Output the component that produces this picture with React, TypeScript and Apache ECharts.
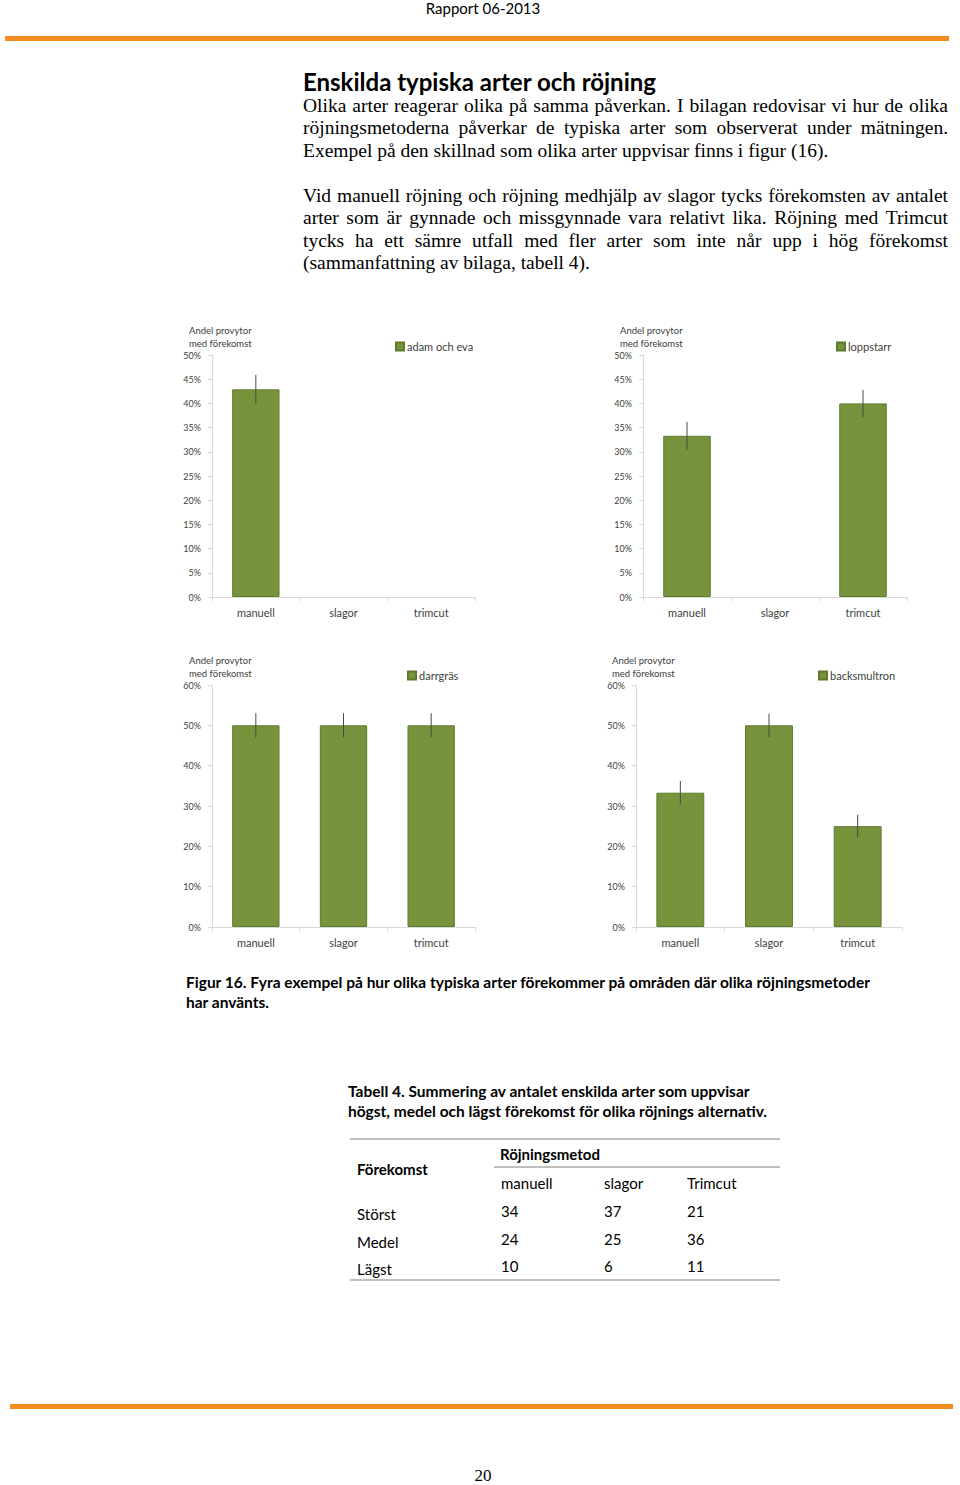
import React, { useEffect, useRef } from "react";
import * as echarts from "echarts";

// ---------- data ----------
const categories = ["manuell", "slagor", "trimcut"];
const speciesNames = ["adam och eva", "loppstarr", "darrgräs", "backsmultron"];
const adamValues = [42.9, 0, 0];
const adamErrors = [3.0, 0, 0];
const loppstarrValues = [33.3, 0, 40.0];
const loppstarrErrors = [2.9, 0, 2.8];
const darrgrasValues = [50.0, 50.0, 50.0];
const darrgrasErrors = [3.0, 3.0, 3.0];
const backsmultronValues = [33.3, 50.0, 25.0];
const backsmultronErrors = [2.9, 2.9, 2.8];
const yMaxes = [50, 50, 60, 60];
const yIntervals = [5, 5, 10, 10];

const tableColumns = ["manuell", "slagor", "Trimcut"];
const tableRows = ["Störst", "Medel", "Lägst"];
const tableManuell = [34, 24, 10];
const tableSlagor = [37, 25, 6];
const tableTrimcut = [21, 36, 11];

const paragraph1 = [
  "Olika arter reagerar olika på samma påverkan. I bilagan redovisar vi hur de olika",
  "röjningsmetoderna påverkar de typiska arter som observerat under mätningen.",
  "Exempel på den skillnad som olika arter uppvisar finns i figur (16).",
];
const paragraph2 = [
  "Vid manuell röjning och röjning medhjälp av slagor tycks förekomsten av antalet",
  "arter som är gynnade och missgynnade vara relativt lika. Röjning med Trimcut",
  "tycks ha ett sämre utfall med fler arter som inte når upp i hög förekomst",
  "(sammanfattning av bilaga, tabell 4).",
];

// ---------- layout ----------
const SANS = "Lato";
const SERIF = "Liberation Serif";
const BAR_COLOR = "#77933c";
const AXIS_COLOR = "#d9d9d9";
const LABEL_COLOR = "#404040";

const grids = [
  { left: 212, top: 355, width: 263, height: 242 },
  { left: 643, top: 355, width: 264, height: 242 },
  { left: 212, top: 685, width: 263, height: 242 },
  { left: 636, top: 685, width: 266, height: 242 },
];
const legendPos = [
  { left: 395, top: 341 },
  { left: 836, top: 341 },
  { left: 407, top: 670 },
  { left: 818, top: 670 },
];
const axisTitlePos = [
  { x: 189, y: 330 },
  { x: 620, y: 330 },
  { x: 189, y: 660 },
  { x: 612, y: 660 },
];

function measureCtx() {
  const c = document.createElement("canvas");
  return c.getContext("2d")!;
}

function justifiedLines(lines: string[], x: number, y0: number, lh: number, width: number, font: string, fill: string) {
  const ctx = measureCtx();
  ctx.font = font;
  const els: any[] = [];
  lines.forEach((line, li) => {
    const y = y0 + li * lh;
    const last = li === lines.length - 1;
    if (last) {
      els.push({ type: "text", x, y, style: { text: line, font, fill, textVerticalAlign: "middle" } });
      return;
    }
    const words = line.split(" ");
    const widths = words.map((w) => ctx.measureText(w).width);
    const total = widths.reduce((a, b) => a + b, 0);
    const gap = (width - total) / (words.length - 1);
    let cx = x;
    words.forEach((w, wi) => {
      els.push({ type: "text", x: cx, y, style: { text: w, font, fill, textVerticalAlign: "middle" } });
      cx += widths[wi] + gap;
    });
  });
  return els;
}

function txt(text: string, x: number, y: number, font: string, fill = "#000", align = "left") {
  return { type: "text", x, y, style: { text, font, fill, textAlign: align, textVerticalAlign: "middle" } };
}

export default function App() {
  const ref = useRef<HTMLDivElement>(null);
  useEffect(() => {
    if (!ref.current) return;
    const chart = echarts.init(ref.current, undefined, { renderer: "svg" });
    const values = [adamValues, loppstarrValues, darrgrasValues, backsmultronValues];
    const errors = [adamErrors, loppstarrErrors, darrgrasErrors, backsmultronErrors];

    const series: any[] = [];
    values.forEach((vals, k) => {
      series.push({
        type: "bar",
        name: speciesNames[k],
        xAxisIndex: k,
        yAxisIndex: k,
        data: vals.map((v) => (v > 0 ? v : null)),
        barWidth: "54%",
        itemStyle: { color: BAR_COLOR, borderColor: "#5f7a2e", borderWidth: 1 },
      });
      const errData = vals
        .map((v, i) => [i, v - errors[k][i], v + errors[k][i], errors[k][i]])
        .filter((d) => d[3] > 0);
      series.push({
        type: "custom",
        name: speciesNames[k] + " fel",
        xAxisIndex: k,
        yAxisIndex: k,
        data: errData,
        encode: { x: 0, y: [1, 2] },
        z: 10,
        renderItem: (params: any, api: any) => {
          const idx = api.value(0);
          const lo = api.coord([idx, api.value(1)]);
          const hi = api.coord([idx, api.value(2)]);
          return {
            type: "line",
            shape: { x1: lo[0], y1: lo[1], x2: hi[0], y2: hi[1] },
            style: { stroke: "#4a4a4a", lineWidth: 1 },
          };
        },
      });
    });

    const xAxes = grids.map((_, k) => ({
      type: "category",
      gridIndex: k,
      data: categories,
      axisLine: { lineStyle: { color: AXIS_COLOR } },
      axisTick: { show: true, length: 4, lineStyle: { color: AXIS_COLOR } },
      axisLabel: { color: LABEL_COLOR, fontFamily: SANS, fontSize: 11, margin: 10 },
      splitLine: { show: false },
    }));
    const yAxes = grids.map((_, k) => ({
      type: "value",
      gridIndex: k,
      min: 0,
      max: yMaxes[k],
      interval: yIntervals[k],
      axisLine: { show: true, lineStyle: { color: AXIS_COLOR } },
      axisTick: { show: true, length: 4, lineStyle: { color: AXIS_COLOR } },
      axisLabel: { color: LABEL_COLOR, fontFamily: SANS, fontSize: 9, margin: 11, formatter: "{value}%" },
      splitLine: { show: false },
    }));

    const graphics: any[] = [];
    // header
    graphics.push(txt("Rapport 06-2013", 483, 8, `15px ${SANS}`, "#000", "center"));
    graphics.push({ type: "rect", shape: { x: 5, y: 36, width: 944, height: 5 }, style: { fill: "#f68b1f" } });
    graphics.push(txt("Enskilda typiska arter och röjning", 303, 81, `bold 24px ${SANS}`));
    const serifFont = `19.5px ${SERIF}`;
    graphics.push(...justifiedLines(paragraph1, 303, 105, 22.5, 645, serifFont, "#000"));
    graphics.push(...justifiedLines(paragraph2, 303, 195, 22.5, 645, serifFont, "#000"));
    // axis titles
    axisTitlePos.forEach((p) => {
      graphics.push(txt("Andel provytor", p.x, p.y, `9.5px ${SANS}`, LABEL_COLOR));
      graphics.push(txt("med förekomst", p.x, p.y + 13, `9.5px ${SANS}`, LABEL_COLOR));
    });
    // figure caption
    graphics.push(
      txt(
        "Figur 16. Fyra exempel på hur olika typiska arter förekommer på områden där olika röjningsmetoder",
        186,
        982,
        `bold 15.5px ${SANS}`
      )
    );
    graphics.push(txt("har använts.", 186, 1002, `bold 15.5px ${SANS}`));
    // table caption
    graphics.push(txt("Tabell 4. Summering av antalet enskilda arter som uppvisar", 348, 1091, `bold 15.5px ${SANS}`));
    graphics.push(txt("högst, medel och lägst förekomst för olika röjnings alternativ.", 348, 1111, `bold 15.5px ${SANS}`));
    // table
    graphics.push({ type: "line", shape: { x1: 350, y1: 1139, x2: 780, y2: 1139 }, style: { stroke: "#bfbfbf", lineWidth: 2 } });
    graphics.push({ type: "line", shape: { x1: 494, y1: 1167, x2: 780, y2: 1167 }, style: { stroke: "#bfbfbf", lineWidth: 2 } });
    graphics.push({ type: "line", shape: { x1: 350, y1: 1280, x2: 780, y2: 1280 }, style: { stroke: "#bfbfbf", lineWidth: 2 } });
    graphics.push(txt("Förekomst", 357, 1169, `bold 15px ${SANS}`));
    graphics.push(txt("Röjningsmetod", 500, 1154, `bold 15px ${SANS}`));
    const colX = [501, 604, 687];
    tableColumns.forEach((c, i) => graphics.push(txt(c, colX[i], 1183, `15px ${SANS}`)));
    const rowY = [1213, 1241, 1268];
    const cols = [tableManuell, tableSlagor, tableTrimcut];
    tableRows.forEach((r, ri) => {
      graphics.push(txt(r, 357, rowY[ri] + 1, `15px ${SANS}`));
      cols.forEach((col, ci) => graphics.push(txt(String(col[ri]), colX[ci], rowY[ri] - 2, `15px ${SANS}`)));
    });
    // footer
    graphics.push({ type: "rect", shape: { x: 10, y: 1404, width: 943, height: 5 }, style: { fill: "#f68b1f" } });
    graphics.push(txt("20", 483, 1475, `17px ${SERIF}`, "#000", "center"));

    chart.setOption({
      animation: false,
      backgroundColor: "#ffffff",
      grid: grids,
      xAxis: xAxes,
      yAxis: yAxes,
      legend: legendPos.map((p, k) => ({
        data: [speciesNames[k]],
        left: p.left,
        top: p.top,
        icon: "rect",
        itemWidth: 8,
        itemHeight: 8,
        itemGap: 4,
        padding: 0,
        selectedMode: false,
        textStyle: { color: LABEL_COLOR, fontFamily: SANS, fontSize: 11, padding: [0, 0, 0, -2] },
      })),
      series,
      graphic: { elements: graphics },
    });
    return () => chart.dispose();
  }, []);
  return (
    <div
      ref={ref}
      style={{ position: "absolute", left: 0, top: 0, width: 960, height: 1485, background: "#fff" }}
    />
  );
}
